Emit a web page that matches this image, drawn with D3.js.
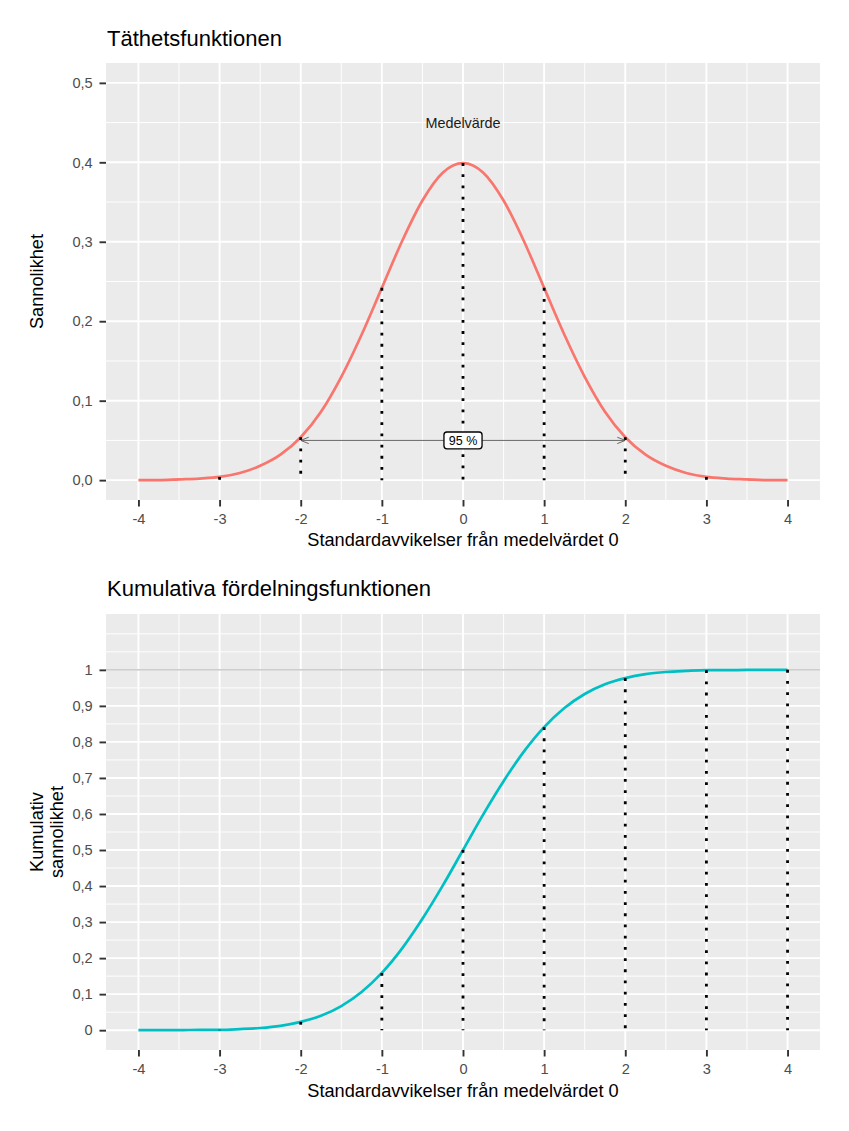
<!DOCTYPE html>
<html>
<head>
<meta charset="utf-8">
<title>Normalfördelningen</title>
<script src="https://d3js.org/d3.v7.min.js"></script>
<style>
  body { margin: 0; background: #fff; }
  svg text { font-family: "Liberation Sans", Arial, Helvetica, sans-serif; }
</style>
</head>
<body>
<div id="chart"></div>
<script>

// standard deviations on the x axis
var xTicks = [-4, -3, -2, -1, 0, 1, 2, 3, 4];
var xSteps = [-4, -3.75, -3.5, -3.25, -3, -2.75, -2.5, -2.25, -2, -1.75, -1.5, -1.25, -1, -0.75, -0.5, -0.25,
              0, 0.25, 0.5, 0.75, 1, 1.25, 1.5, 1.75, 2, 2.25, 2.5, 2.75, 3, 3.25, 3.5, 3.75, 4];

// values
var densityValues = [0.000, 0.000, 0.001, 0.002, 0.004, 0.009, 0.018, 0.032, 0.054, 0.086, 0.130, 0.183, 0.242, 0.301, 0.352, 0.387,
                     0.399, 0.387, 0.352, 0.301, 0.242, 0.183, 0.130, 0.086, 0.054, 0.032, 0.018, 0.009, 0.004, 0.002, 0.001, 0.000, 0.000];
var cdfValues = [0.000, 0.000, 0.000, 0.001, 0.001, 0.003, 0.006, 0.012, 0.023, 0.040, 0.067, 0.106, 0.159, 0.227, 0.309, 0.401,
                 0.500, 0.599, 0.691, 0.773, 0.841, 0.894, 0.933, 0.960, 0.977, 0.988, 0.994, 0.997, 0.999, 0.999, 1.000, 1.000, 1.000];

// dotted drop lines
var densityMarkX = [-3, -2, -1, 0, 1, 2, 3];
var densityMarkY = [0.004, 0.054, 0.242, 0.399, 0.242, 0.054, 0.004];
var cdfMarkX = [-4, -3, -2, -1, 0, 1, 2, 3, 4];
var cdfMarkY = [0.000, 0.001, 0.023, 0.159, 0.500, 0.841, 0.977, 0.999, 1.000];

// y ticks
var densityTicks = [0, 0.1, 0.2, 0.3, 0.4, 0.5];
var densityTickLabels = ["0,0", "0,1", "0,2", "0,3", "0,4", "0,5"];
var cdfTicks = [0, 0.1, 0.2, 0.3, 0.4, 0.5, 0.6, 0.7, 0.8, 0.9, 1];
var cdfTickLabels = ["0", "0,1", "0,2", "0,3", "0,4", "0,5", "0,6", "0,7", "0,8", "0,9", "1"];

// annotations
var meanLabel = { x: 0, y: 0.45, text: "Medelvärde" };
var intervalArrow = { from: -2, to: 2, y: 0.05, text: "95 %" };
var cdfRefLine = 1;

var W = 849, H = 1131;
var left = 106, right = 820;

var svg = d3.select("#chart").append("svg")
  .attr("width", W)
  .attr("height", H);
svg.append("rect").attr("width", W).attr("height", H).attr("fill", "#fff");

var defs = svg.append("defs");
defs.append("marker")
  .attr("id", "arrowhead")
  .attr("viewBox", "0 0 10 10")
  .attr("refX", 10).attr("refY", 5)
  .attr("markerWidth", 8).attr("markerHeight", 8)
  .attr("markerUnits", "userSpaceOnUse")
  .attr("orient", "auto-start-reverse")
  .append("path")
  .attr("d", "M0,1 L10,5 L0,9")
  .attr("fill", "none")
  .attr("stroke", "#555")
  .attr("stroke-width", 1.1);

function midpoints(t, upper) {
  var out = [];
  for (var i = 0; i < t.length - 1; i++) out.push((t[i] + t[i + 1]) / 2);
  // ggplot extends minor breaks one step past the last major break
  var step = t[1] - t[0];
  var last = t[t.length - 1];
  [last + step / 2, last + step].forEach(function (v) { if (v < upper - 0.01) out.push(v); });
  return out;
}

function panel(opt) {
  var g = svg.append("g");
  var x = d3.scaleLinear().domain([-4.4, 4.4]).range([left, right]);
  var y = d3.scaleLinear().domain(opt.yDomain).range([opt.bottom, opt.top]);

  g.append("rect")
    .attr("x", left).attr("y", opt.top)
    .attr("width", right - left).attr("height", opt.bottom - opt.top)
    .attr("fill", "#EBEBEB");

  // minor grid
  var xMinor = midpoints(xTicks, 4.4);
  var yMinor = midpoints(opt.yTicks, opt.yDomain[1]);
  g.selectAll(".xminor").data(xMinor).enter().append("line")
    .attr("x1", d => x(d)).attr("x2", d => x(d))
    .attr("y1", opt.top).attr("y2", opt.bottom)
    .attr("stroke", "#fff").attr("stroke-width", 0.95);
  g.selectAll(".yminor").data(yMinor).enter().append("line")
    .attr("x1", left).attr("x2", right)
    .attr("y1", d => y(d)).attr("y2", d => y(d))
    .attr("stroke", "#fff").attr("stroke-width", 0.95);

  // major grid
  g.selectAll(".xmajor").data(xTicks).enter().append("line")
    .attr("x1", d => x(d)).attr("x2", d => x(d))
    .attr("y1", opt.top).attr("y2", opt.bottom)
    .attr("stroke", "#fff").attr("stroke-width", 1.9);
  g.selectAll(".ymajor").data(opt.yTicks).enter().append("line")
    .attr("x1", left).attr("x2", right)
    .attr("y1", d => y(d)).attr("y2", d => y(d))
    .attr("stroke", "#fff").attr("stroke-width", 1.9);

  // axes
  var xAxis = g.append("g")
    .attr("transform", "translate(0," + opt.bottom + ")")
    .call(d3.axisBottom(x).tickValues(xTicks).tickSize(6.5).tickPadding(7.2).tickFormat(d3.format("d")));
  var yAxis = g.append("g")
    .attr("transform", "translate(" + left + ",0)")
    .call(d3.axisLeft(y).tickValues(opt.yTicks).tickSize(6.5).tickPadding(6.8)
      .tickFormat(function (d, i) { return opt.yLabels[i]; }));
  [xAxis, yAxis].forEach(function (a) {
    a.select(".domain").remove();
    a.selectAll(".tick line").attr("stroke", "#333").attr("stroke-width", 1.9);
    a.selectAll(".tick text")
      .attr("fill", "#4D4D4D")
      .style("font-size", "14.6px")
      .style("font-family", "'Liberation Sans', Arial, sans-serif");
  });
  xAxis.selectAll(".tick text").text(function (d) { return d < 0 ? "-" + Math.abs(d) : d; });

  return { g: g, x: x, y: y };
}

// ---------- top panel: density ----------
var p1 = panel({
  top: 63, bottom: 500,
  yDomain: [-0.025, 0.525],
  yTicks: densityTicks,
  yLabels: densityTickLabels
});

var line1 = d3.line()
  .curve(d3.curveMonotoneX)
  .x(function (d, i) { return p1.x(xSteps[i]); })
  .y(function (d) { return p1.y(d); });

p1.g.append("path")
  .datum(densityValues)
  .attr("d", line1)
  .attr("fill", "none")
  .attr("stroke", "#F8766D")
  .attr("stroke-width", 2.7);

p1.g.selectAll(".drop").data(densityMarkY).enter().append("line")
  .attr("x1", (d, i) => p1.x(densityMarkX[i])).attr("x2", (d, i) => p1.x(densityMarkX[i]))
  .attr("y1", d => p1.y(d)).attr("y2", p1.y(0))
  .attr("stroke", "#000").attr("stroke-width", 2.8)
  .attr("stroke-dasharray", "2.8 8.4");

p1.g.append("line")
  .attr("x1", p1.x(intervalArrow.from)).attr("x2", p1.x(intervalArrow.to))
  .attr("y1", p1.y(intervalArrow.y)).attr("y2", p1.y(intervalArrow.y))
  .attr("stroke", "#555").attr("stroke-width", 0.9)
  .attr("marker-start", "url(#arrowhead)")
  .attr("marker-end", "url(#arrowhead)");

var lbl = p1.g.append("g");
var lblRect = lbl.append("rect");
var lblText = lbl.append("text")
  .attr("x", p1.x(0)).attr("y", p1.y(intervalArrow.y))
  .attr("dy", "0.36em")
  .attr("text-anchor", "middle")
  .style("font-size", "12.5px")
  .attr("fill", "#000")
  .text(intervalArrow.text);
var bb = lblText.node().getBBox();
lblRect
  .attr("x", p1.x(0) - bb.width / 2 - 4.8)
  .attr("y", p1.y(intervalArrow.y) - 8.4)
  .attr("width", bb.width + 9.6)
  .attr("height", 16.8)
  .attr("rx", 3).attr("ry", 3)
  .attr("fill", "#fff")
  .attr("stroke", "#000")
  .attr("stroke-width", 1.3);

p1.g.append("text")
  .attr("x", p1.x(meanLabel.x)).attr("y", p1.y(meanLabel.y))
  .attr("dy", "0.36em")
  .attr("text-anchor", "middle")
  .style("font-size", "14.4px")
  .attr("fill", "#1A1A1A")
  .text(meanLabel.text);

// ---------- bottom panel: cumulative ----------
var p2 = panel({
  top: 614, bottom: 1050,
  yDomain: [-0.055, 1.155],
  yTicks: cdfTicks,
  yLabels: cdfTickLabels
});

p2.g.append("line")
  .attr("x1", left).attr("x2", right)
  .attr("y1", p2.y(cdfRefLine)).attr("y2", p2.y(cdfRefLine))
  .attr("stroke", "#BDBDBD").attr("stroke-width", 1.2);

var line2 = d3.line()
  .curve(d3.curveMonotoneX)
  .x(function (d, i) { return p2.x(xSteps[i]); })
  .y(function (d) { return p2.y(d); });

p2.g.append("path")
  .datum(cdfValues)
  .attr("d", line2)
  .attr("fill", "none")
  .attr("stroke", "#00BFC4")
  .attr("stroke-width", 2.7);

p2.g.selectAll(".drop").data(cdfMarkY).enter().append("line")
  .attr("x1", (d, i) => p2.x(cdfMarkX[i])).attr("x2", (d, i) => p2.x(cdfMarkX[i]))
  .attr("y1", d => p2.y(d)).attr("y2", p2.y(0))
  .attr("stroke", "#000").attr("stroke-width", 2.8)
  .attr("stroke-dasharray", "2.8 8.4");

// ---------- titles ----------
svg.append("text").attr("x", 107).attr("y", 46)
  .style("font-size", "22px").attr("fill", "#000")
  .text("Täthetsfunktionen");
svg.append("text").attr("x", 107).attr("y", 596)
  .style("font-size", "22px").attr("fill", "#000")
  .text("Kumulativa fördelningsfunktionen");

var xTitle = "Standardavvikelser från medelvärdet 0";
svg.append("text").attr("x", (left + right) / 2).attr("y", 546)
  .attr("text-anchor", "middle").style("font-size", "18.2px").attr("fill", "#000")
  .text(xTitle);
svg.append("text").attr("x", (left + right) / 2).attr("y", 1097)
  .attr("text-anchor", "middle").style("font-size", "18.2px").attr("fill", "#000")
  .text(xTitle);

svg.append("text")
  .attr("transform", "translate(42.5," + (63 + 500) / 2 + ") rotate(-90)")
  .attr("text-anchor", "middle").style("font-size", "18.2px").attr("fill", "#000")
  .text("Sannolikhet");

var yt2 = svg.append("text")
  .attr("transform", "translate(42.5," + (614 + 1050) / 2 + ") rotate(-90)")
  .attr("text-anchor", "middle").style("font-size", "18.2px").attr("fill", "#000");
yt2.append("tspan").attr("x", 0).attr("y", 0).text("Kumulativ");
yt2.append("tspan").attr("x", 0).attr("y", 20.8).text("sannolikhet");

</script>
</body>
</html>
